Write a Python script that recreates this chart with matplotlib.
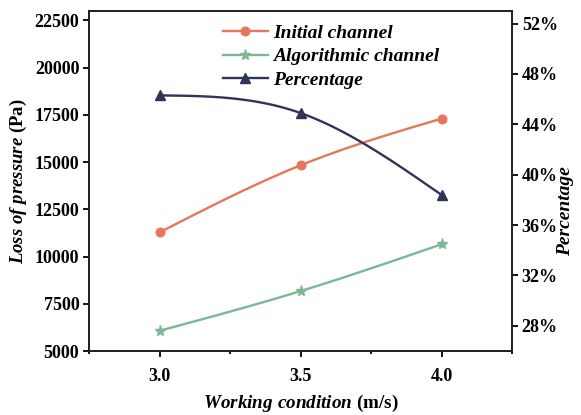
import numpy as np
import matplotlib
matplotlib.use("Agg")
import matplotlib.pyplot as plt
from matplotlib.ticker import FuncFormatter, MultipleLocator

# Data
conditions = [3.0, 3.5, 4.0]
initial_channel = [11280, 14830, 17300]
algorithmic_channel = [6070, 8170, 10650]
percentage = [46.3, 44.9, 38.4]

plt.rcParams['font.family'] = ['Liberation Serif', 'DejaVu Serif']
plt.rcParams['font.weight'] = 'bold'
plt.rcParams['mathtext.fontset'] = 'custom'
plt.rcParams['mathtext.bfit'] = 'Liberation Serif:bold:italic'
plt.rcParams['mathtext.it'] = 'Liberation Serif:italic:bold'
plt.rcParams['mathtext.rm'] = 'Liberation Serif:bold'

c_init = '#E5775A'
c_alg = '#7DB795'
c_pct = '#2F3556'


def natural_spline(x, y, n=200):
    x = np.asarray(x, float)
    y = np.asarray(y, float)
    k = len(x)
    h = np.diff(x)
    A = np.zeros((k, k))
    b = np.zeros(k)
    A[0, 0] = 1
    A[-1, -1] = 1
    for i in range(1, k - 1):
        A[i, i - 1] = h[i - 1]
        A[i, i] = 2 * (h[i - 1] + h[i])
        A[i, i + 1] = h[i]
        b[i] = 6 * ((y[i + 1] - y[i]) / h[i] - (y[i] - y[i - 1]) / h[i - 1])
    M = np.linalg.solve(A, b)
    xs = np.linspace(x[0], x[-1], n)
    ys = np.empty_like(xs)
    for j, xv in enumerate(xs):
        i = min(np.searchsorted(x, xv, side='right') - 1, k - 2)
        t1 = x[i + 1] - xv
        t0 = xv - x[i]
        ys[j] = (M[i] * t1 ** 3 / (6 * h[i]) + M[i + 1] * t0 ** 3 / (6 * h[i])
                 + (y[i] / h[i] - M[i] * h[i] / 6) * t1
                 + (y[i + 1] / h[i] - M[i + 1] * h[i] / 6) * t0)
    return xs, ys


fig = plt.figure(figsize=(5.81, 4.15), dpi=100)
ax = fig.add_axes([89 / 581, 1 - 351 / 415, 423 / 581, 340 / 415])
ax2 = ax.twinx()

lw = 1.7
ms_o, ms_s, ms_t = 6.2, 8, 6.8
xs, ys = natural_spline(conditions, initial_channel)
ax.plot(xs, ys, color=c_init, lw=lw)
ax.plot(conditions, initial_channel, 'o', color=c_init, ms=ms_o)
xs, ys = natural_spline(conditions, algorithmic_channel)
ax.plot(xs, ys, color=c_alg, lw=lw)
ax.plot(conditions, algorithmic_channel, '*', color=c_alg, ms=ms_s)
xs, ys = natural_spline(conditions, percentage)
ax2.plot(xs, ys, color=c_pct, lw=lw)
ax2.plot(conditions, percentage, '^', color=c_pct, ms=ms_t)

# legend proxies
h1, = ax.plot([], [], '-o', color=c_init, lw=lw, ms=ms_o)
h2, = ax.plot([], [], '-*', color=c_alg, lw=lw, ms=ms_s)
h3, = ax.plot([], [], '-^', color=c_pct, lw=lw, ms=ms_t)
leg = ax.legend([h1, h2, h3], ['Initial channel', 'Algorithmic channel', 'Percentage'],
                loc='upper left', bbox_to_anchor=(0.275, 1.012), frameon=False,
                prop={'family': 'Liberation Serif', 'style': 'italic', 'weight': 'bold', 'size': 14},
                handlelength=2.3, handletextpad=0.3, labelspacing=0.3)

ax.set_xlim(2.75, 4.25)
ax.set_ylim(5000, 23000)
ax2.set_ylim(26, 53)
ax.set_xticks([3.0, 3.5, 4.0])
ax.xaxis.set_minor_locator(MultipleLocator(0.25))
ax.set_yticks(np.arange(5000, 22501, 2500))
ax2.set_yticks(np.arange(28, 53, 4))
ax2.yaxis.set_major_formatter(FuncFormatter(lambda v, p: f'{v:.0f}%'))
ax.xaxis.set_major_formatter(FuncFormatter(lambda v, p: f'{v:.1f}'))

for a in (ax, ax2):
    for s in a.spines.values():
        s.set_linewidth(1.3)
        s.set_color('#222222')
    a.tick_params(direction='out', width=1.3, length=4, labelsize=13, colors='black', pad=3)
ax.tick_params(axis='x', which='minor', direction='out', width=1.3, length=2.5)
ax.tick_params(axis='x', pad=8)
for lab in ax.get_xticklabels() + ax.get_yticklabels() + ax2.get_yticklabels():
    lab.set_fontweight('bold')

ax.set_xlabel(r'$\mathbfit{Working\ condition}$ (m/s)', fontsize=13.8, fontweight='bold', labelpad=6)
ax.set_ylabel(r'$\mathbfit{Loss\ of\ pressure}$ (Pa)', fontsize=13.5, fontweight='bold', labelpad=4)
ax2.set_ylabel('Percentage', fontsize=14, fontweight='bold', style='italic', labelpad=6)
ax2.yaxis.set_label_coords(1.106, 0.41)

fig.savefig('out.png', dpi=100)
